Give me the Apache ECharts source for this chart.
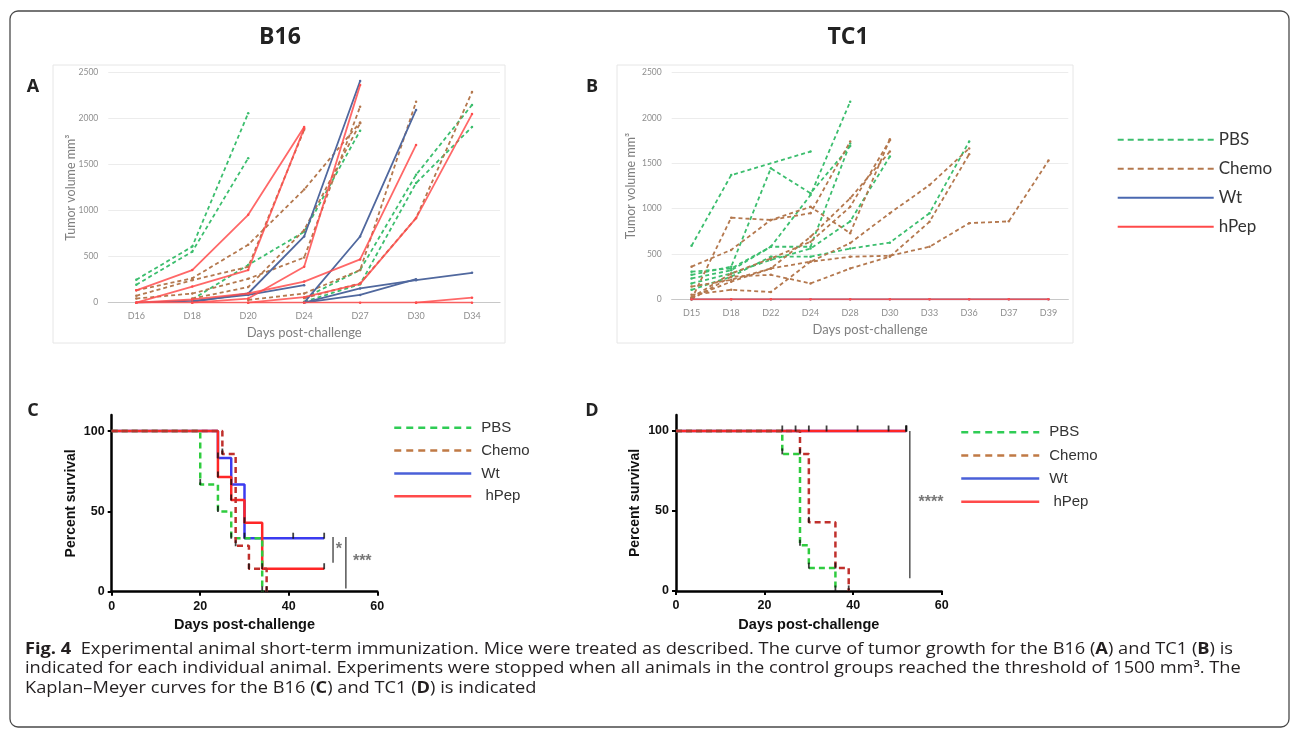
<!DOCTYPE html>
<html><head><meta charset="utf-8">
<script src="https://cdn.jsdelivr.net/npm/echarts@6.0.0/dist/echarts.min.js"></script>
<style>html,body{margin:0;padding:0;background:#fff}#c{width:1295px;height:730px}</style>
</head><body><div id="c"></div>
<script>
// ---------- DATA ----------
const daysA = ['D16','D18','D20','D24','D27','D30','D34'];
const daysB = ['D15','D18','D22','D24','D28','D30','D33','D36','D37','D39'];

const aPBS = [
  [250, 610, 2060],
  [195, 555, 1570],
  [null, 35, 410, 770, 1870],
  [null, null, null, 50, 355, 1390, 2150],
  [null, null, null, 10, 200, 1300, 1910]
];
const aChemo = [
  [135, 265, 630, 1230, 1960],
  [75, 245, 390, 1880],
  [45, 100, 260, 490, 2130],
  [null, 45, 170, 790, 1950],
  [null, null, 30, 100, 355, 2185],
  [null, null, null, 50, 210, 920, 2290]
];
const aWt = [
  [null, 10, 100, 720, 2410],
  [null, null, null, 0, 720, 2095],
  [null, null, null, 0, 155, 245, 325],
  [null, null, null, 0, 85, 255],
  [0, 20, 85, 190]
];
const aHPep = [
  [135, 355, 955, 1910],
  [0, 175, 355, 1895],
  [0, 35, 100, 230, 470, 1715],
  [null, null, 0, 60, 205, 920, 2050],
  [null, 0, 45, 390, 2365],
  [null, null, null, null, null, 0, 55],
  [0, 0, 0, 0, 0, 0, 0]
];

const bPBS = [
  [590, 1370, null, 1630],
  [270, 360, 1445, 1170, 1690],
  [305, 340, 580, 1150, 2180],
  [230, 320, 580, 580, 1720],
  [175, 285, 435, 560, 860, 1575],
  [105, 250, 470, 470, 560, 625, 950, 1740]
];
const bChemo = [
  [360, 545, 875, 1020, 730, 1765],
  [0, 900, 875, 950, 1740],
  [140, 215, 340, 690, 1115, 1630],
  [50, 105, 80, 415, 470, 480, 580, 840, 860, 1530],
  [0, 250, 270, 175, 340, 470, 855, 1600],
  [20, 195, 340, 415, 620, 950, 1260, 1665],
  [20, 285, 450, 635, 1020, 1755]
];
const bWt = [[0, 0, 0, 0, 0, 0, 0, 0, 0, 0]];
const bHPep = [[0, 0, 0, 0, 0, 0, 0, 0, 0, 0]];

// Kaplan-Meier: [day, percent survival]
const cPBS   = [[0,100],[20,66.7],[24,50],[27,33.3],[34,0]];
const cChemo = [[0,100],[25,85.7],[28,28.6],[31,14.3],[35,0]];
const cWt    = [[0,100],[24,83.3],[27,66.7],[30,33.3],[48,33.3]];
const cHPep  = [[0,100],[24,71.4],[27,57.1],[30,42.9],[34,14.3],[48,14.3]];
const cCensor = [[41,33.3]];
const dPBS   = [[0,100],[24,85.7],[28,28.6],[30,14.3],[36,0]];
const dChemo = [[0,100],[28,85.7],[30,42.9],[36,14.3],[39,0]];
const dWt    = [[0,100],[52,100]];
const dHPep  = [[0,100],[52,100]];
const dCensorDays = [24, 27, 30, 34, 41, 48, 52];
const survTicks = [0, 50, 100];

// significance annotations (data space): bar from y0 to y1 at day x, label
const sigC = [
  {x: 50, y0: 34, y1: 18, label: '*', lx: 51.3, ly: 26},
  {x: 52.9, y0: 34, y1: 2, label: '***', lx: 56.6, ly: 19}
];
const sigD = [
  {x: 52.8, y0: 100, y1: 8, label: '****', lx: 57.6, ly: 55}
];

const groups = ['PBS', 'Chemo', 'Wt', 'hPep'];

// ---------- STYLES ----------
const topStyle = {
  PBS:   {color: '#3cbe6e', width: 1.8, type: [4, 3], z: 3},
  Chemo: {color: '#b4784e', width: 1.8, type: [4, 3], z: 4},
  Wt:    {color: '#50689e', width: 1.8, type: 'solid', z: 5},
  hPep:  {color: '#ff4d4d', width: 1.8, type: 'solid', z: 6}
};
const kmStyle = {
  PBS:   {color: '#2fcc3f', width: 2.5, type: [6, 4], z: 5},
  Chemo: {color: '#c0302c', width: 2.5, type: [6, 4], z: 6},
  Wt:    {color: '#3b3bf0', width: 2.5, type: 'solid', z: 3},
  hPep:  {color: '#ff2626', width: 2.5, type: 'solid', z: 4}
};
const legendTopStyle = {
  PBS:   {color: '#3cbe6e', width: 2, type: [6, 4]},
  Chemo: {color: '#b4784e', width: 2, type: [6, 4]},
  Wt:    {color: '#4a68b0', width: 2, type: 'solid'},
  hPep:  {color: '#ff2a2a', width: 2, type: 'solid'}
};
const legendKmStyle = {
  PBS:   {color: '#2fcc55', width: 2.5, type: [7, 5]},
  Chemo: {color: '#c07a45', width: 2.5, type: [7, 5]},
  Wt:    {color: '#4a60d8', width: 2.5, type: 'solid'},
  hPep:  {color: '#ff2a2a', width: 2.5, type: 'solid'}
};

const FT = 'Lato', FK = 'Liberation Sans', FC = 'Open Sans';

// ---------- BUILD ----------
const series = [];
function growth(sets, gi) {
  groups.forEach((g, k) => {
    sets[k].forEach(row => {
      const st = topStyle[g];
      series.push({
        name: g, type: 'line', xAxisIndex: gi, yAxisIndex: gi, data: row,
        connectNulls: true, symbol: 'circle', symbolSize: 2.5,
        itemStyle: {color: st.color},
        lineStyle: {color: st.color, width: st.width, type: st.type, opacity: g === 'hPep' ? 0.85 : 1},
        z: st.z, silent: true, animation: false
      });
    });
  });
}
growth([aPBS, aChemo, aWt, aHPep], 0);
growth([bPBS, bChemo, bWt, bHPep], 1);

function km(sets, gi, extraMarks) {
  const marks = [];
  groups.forEach((g, k) => {
    const st = kmStyle[g];
    series.push({
      name: g, type: 'line', step: 'end', xAxisIndex: gi, yAxisIndex: gi,
      data: sets[k], symbol: 'none', itemStyle: {color: st.color},
      lineStyle: {color: st.color, width: st.width, type: st.type},
      z: st.z, silent: true, animation: false
    });
    sets[k].slice(1).forEach(p => marks.push(p));
  });
  extraMarks.forEach(p => marks.push(p));
  series.push({
    name: 'marks', type: 'scatter', xAxisIndex: gi, yAxisIndex: gi, data: marks,
    symbol: 'rect', symbolSize: [1.8, 6], symbolOffset: [0, -2.5],
    itemStyle: {color: '#111'}, z: 8, silent: true, animation: false
  });
}
km([cPBS, cChemo, cWt, cHPep], 2, cCensor);
km([dPBS, dChemo, dWt, dHPep], 3, dCensorDays.map(d => [d, 100]));

function sig(list, gi) {
  list.forEach(s => {
    series.push({
      name: 'sig', type: 'line', xAxisIndex: gi, yAxisIndex: gi,
      data: [[s.x, s.y0], [s.x, s.y1]], symbol: 'none',
      lineStyle: {color: '#555', width: 1.5}, silent: true, animation: false, z: 7
    });
    series.push({
      name: 'sigLabel', type: 'scatter', xAxisIndex: gi, yAxisIndex: gi,
      data: [[s.lx, s.ly, s.label]], symbolSize: 1, itemStyle: {color: 'rgba(0,0,0,0)'},
      label: {show: true, position: 'inside', formatter: p => p.data[2],
        color: '#555', fontSize: 16, fontFamily: FK, fontWeight: 'bold'},
      silent: true, animation: false, z: 9
    });
  });
}
sig(sigC, 2);
sig(sigD, 3);

function legendData(styleMap) {
  return groups.map(g => ({
    name: g,
    lineStyle: {color: styleMap[g].color, width: styleMap[g].width, type: styleMap[g].type},
    itemStyle: {color: 'rgba(0,0,0,0)', borderColor: 'rgba(0,0,0,0)', borderWidth: 0, opacity: 0}
  }));
}

function topX(data, name, labelMargin) {
  return {type: 'category', data, boundaryGap: true,
    axisLine: {show: true, lineStyle: {color: '#c8c8c8', width: 1.2}},
    axisTick: {show: false},
    axisLabel: {color: '#8e8e8e', fontSize: 9, fontFamily: FT, margin: labelMargin, interval: 0},
    splitLine: {show: false},
    name, nameLocation: 'middle', nameGap: 24, nameMoveOverlap: false,
    nameTextStyle: {color: '#7f7f7f', fontSize: 13, fontFamily: FT}};
}
function topY(nameGap) {
  return {type: 'value', min: 0, max: 2500, interval: 500,
    axisLine: {show: false}, axisTick: {show: false},
    axisLabel: {color: '#8e8e8e', fontSize: 8.5, fontFamily: FT, margin: 10, formatter: v => String(v)},
    splitLine: {show: true, lineStyle: {color: '#ececec', width: 1}},
    name: 'Tumor volume mm\u00b3', nameLocation: 'middle', nameGap, nameMoveOverlap: false,
    nameTextStyle: {color: '#7f7f7f', fontSize: 12.5, fontFamily: FT}};
}
function kmX() {
  return {type: 'value', min: 0, max: 60, interval: 20,
    axisLine: {show: true, onZero: false, lineStyle: {color: '#000', width: 2.5}},
    axisTick: {show: true, length: 4, lineStyle: {color: '#000', width: 2}},
    axisLabel: {color: '#111', fontSize: 12.5, fontWeight: 'bold', fontFamily: FK, margin: 8},
    splitLine: {show: false},
    name: 'Days post-challenge', nameLocation: 'middle', nameGap: 26, nameMoveOverlap: false,
    nameTextStyle: {color: '#111', fontSize: 14.5, fontWeight: 'bold', fontFamily: FK}};
}
function kmY() {
  return {type: 'value', min: 0, max: 110,
    axisLine: {show: true, onZero: false, lineStyle: {color: '#000', width: 2.5}},
    axisTick: {show: true, length: 4, lineStyle: {color: '#000', width: 2}, customValues: survTicks},
    axisLabel: {color: '#111', fontSize: 12.5, fontWeight: 'bold', fontFamily: FK, margin: 7, customValues: survTicks},
    splitLine: {show: false},
    name: 'Percent survival', nameLocation: 'middle', nameGap: 34, nameMoveOverlap: false,
    nameTextStyle: {color: '#111', fontSize: 14, fontWeight: 'bold', fontFamily: FK}};
}

// caption
const captionLines = [
  [{t: 'Fig. 4', b: 1}, {t: '  Experimental animal short-term immunization. Mice were treated as described. The curve of tumor growth for the B16 ('}, {t: 'A', b: 1}, {t: ') and TC1 ('}, {t: 'B', b: 1}, {t: ') is'}],
  [{t: 'indicated for each individual animal. Experiments were stopped when all animals in the control groups reached the threshold of 1500 mm\u00b3. The'}],
  [{t: 'Kaplan\u2013Meyer curves for the B16 ('}, {t: 'C', b: 1}, {t: ') and TC1 ('}, {t: 'D', b: 1}, {t: ') is indicated'}]
];
const CAP_SIZE = 16;
const ctx = document.createElement('canvas').getContext('2d');
function segWidth(segs) {
  let w = 0;
  segs.forEach(s => { ctx.font = (s.b ? 'bold ' : '') + CAP_SIZE + 'px "' + FC + '"'; w += ctx.measureText(s.t).width; });
  return w;
}
const capScale = 1208 / segWidth(captionLines[0]);
const capY = [649, 668.5, 688];
const captionGraphics = captionLines.map((segs, i) => ({
  type: 'text', x: 25, y: capY[i], scaleX: capScale, silent: true,
  style: {
    text: segs.map(s => '{' + (s.b ? 'b' : 'n') + '|' + s.t + '}').join(''),
    rich: {
      b: {fontFamily: FC, fontSize: CAP_SIZE, fontWeight: 'bold', fill: '#231f20'},
      n: {fontFamily: FC, fontSize: CAP_SIZE, fontWeight: 'normal', fill: '#231f20'}
    },
    fontFamily: FC, fontSize: CAP_SIZE, fill: '#231f20', verticalAlign: 'middle', align: 'left'
  }
}));

function label(txt, x, y, size, extra) {
  return Object.assign({type: 'text', x, y, silent: true,
    style: {text: txt, fontFamily: FC, fontSize: size, fontWeight: 'bold', fill: '#222', align: 'center', verticalAlign: 'middle'}}, extra || {});
}

const option = {
  animation: false,
  backgroundColor: '#fff',
  grid: [
    {left: 108.3, top: 72.7, width: 391.7, height: 230, outerBoundsMode: 'none', containLabel: false},
    {left: 671.7, top: 72.7, width: 396.6, height: 226.6, outerBoundsMode: 'none', containLabel: false},
    {left: 111.7, top: 415, width: 265.6, height: 176.7, outerBoundsMode: 'none', containLabel: false},
    {left: 676, top: 415, width: 265.7, height: 176, outerBoundsMode: 'none', containLabel: false}
  ],
  xAxis: [
    Object.assign(topX(daysA, 'Days post-challenge', 9), {gridIndex: 0}),
    Object.assign(topX(daysB, 'Days post-challenge', 9.5), {gridIndex: 1}),
    Object.assign(kmX(), {gridIndex: 2}),
    Object.assign(kmX(), {gridIndex: 3})
  ],
  yAxis: [
    Object.assign(topY(31), {gridIndex: 0}),
    Object.assign(topY(34), {gridIndex: 1}),
    Object.assign(kmY(), {gridIndex: 2}),
    Object.assign(kmY(), {gridIndex: 3})
  ],
  legend: [
    {orient: 'vertical', left: 1116.7, top: 131.3, padding: 0, itemWidth: 96, itemHeight: 14, itemGap: 12,
      selectedMode: false, textStyle: {fontFamily: FT, fontSize: 17, color: '#333', lineHeight: 14},
      data: legendData(legendTopStyle)},
    {orient: 'vertical', left: 393, top: 420.3, padding: 0, itemWidth: 77, itemHeight: 14, itemGap: 7.8,
      selectedMode: false, formatter: n => n === 'hPep' ? ' hPep' : n,
      textStyle: {fontFamily: FK, fontSize: 15, color: '#333', lineHeight: 14, padding: [0, 0, 0, 5]},
      data: legendData(legendKmStyle)},
    {orient: 'vertical', left: 960, top: 424.7, padding: 0, itemWidth: 78, itemHeight: 14, itemGap: 8.2,
      selectedMode: false, formatter: n => n === 'hPep' ? ' hPep' : n,
      textStyle: {fontFamily: FK, fontSize: 15, color: '#333', lineHeight: 14, padding: [0, 0, 0, 5]},
      data: legendData(legendKmStyle)}
  ],
  graphic: [
    {type: 'rect', shape: {x: 10, y: 11, width: 1279, height: 716, r: 8}, style: {fill: 'none', stroke: '#4a4a4a', lineWidth: 1.3}, silent: true, z: -10},
    {type: 'rect', shape: {x: 53, y: 65, width: 452, height: 278}, style: {fill: 'none', stroke: '#e6e6e6', lineWidth: 1}, silent: true, z: -10},
    {type: 'rect', shape: {x: 617, y: 65, width: 456, height: 278}, style: {fill: 'none', stroke: '#e6e6e6', lineWidth: 1}, silent: true, z: -10},
    label('B16', 280, 37, 23),
    label('TC1', 848, 37, 23),
    label('A', 33, 87, 18),
    label('B', 592, 87, 18),
    label('C', 33, 411, 18),
    label('D', 592, 411, 18)
  ].concat(captionGraphics),
  series
};

const chart = echarts.init(document.getElementById('c'), null, {renderer: 'canvas'});
chart.setOption(option);
</script>
</body></html>
